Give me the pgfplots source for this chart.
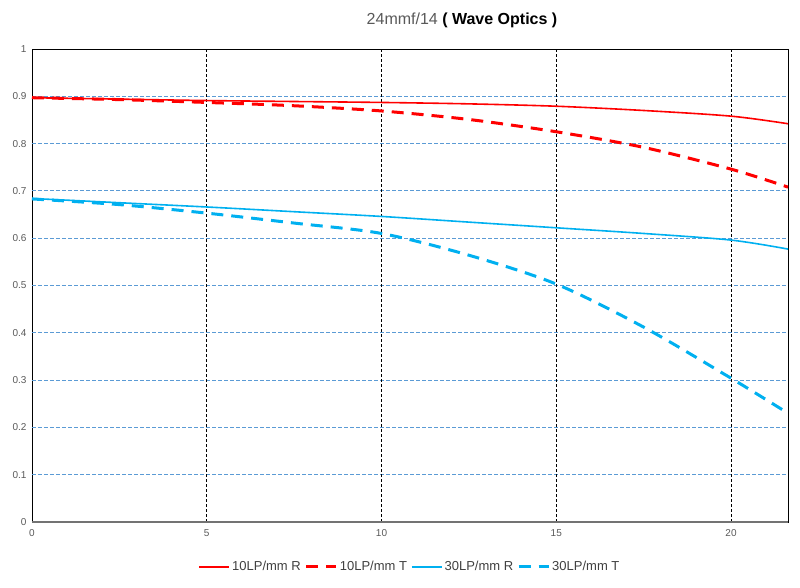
\documentclass[border=0pt]{standalone}
\usepackage{pgfplots}
\pgfplotsset{compat=1.18}
\usepackage{fontspec}
\setmainfont{Liberation Sans}
\definecolor{cred}{RGB}{255,0,0}
\definecolor{cblue}{RGB}{0,176,240}
\definecolor{gridblue}{RGB}{91,155,213}
\definecolor{tickgray}{RGB}{89,89,89}
\begin{document}
\begin{tikzpicture}
\begin{axis}[
  name=ax,
  scale only axis,
  width=756pt, height=473pt,
  xmin=0, xmax=21.63, ymin=0, ymax=1,
  xtick={0,5,10,15,20},
  ytick={0,0.1,0.2,0.3,0.4,0.5,0.6,0.7,0.8,0.9,1},
  yticklabels={0,0.1,0.2,0.3,0.4,0.5,0.6,0.7,0.8,0.9,1},
  xticklabels={0,5,10,15,20},
  tick style={draw=none},
  tick label style={font=\fontsize{10}{11}\selectfont, text=tickgray},
  yticklabel style={xshift=-2pt},
  xticklabel style={yshift=-4pt},
  /pgf/number format/assume math mode=true,
  axis line style={black, line width=0.8pt},
  legend style={at={(0.5,-0.095)}, anchor=center, draw=none,
    font=\fontsize{13}{15}\selectfont, text=black!75,
    /tikz/every even column/.append style={column sep=2pt}},
  legend columns=4,
  legend image code/.code={\draw[#1] (0pt,0pt) -- (30pt,0pt);},
]
% grid lines
\pgfplotsinvokeforeach{0.1,0.2,0.3,0.4,0.5,0.6,0.7,0.8,0.9}{
  \draw[gridblue, line width=1.2pt, dash pattern=on 4pt off 2pt] (axis cs:0,#1) -- (axis cs:21.63,#1);
}
\pgfplotsinvokeforeach{5,10,15,20}{
  \draw[black, line width=1pt, dash pattern=on 3pt off 2pt] (axis cs:#1,0) -- (axis cs:#1,1);
}
\draw[black!55, line width=2pt] (rel axis cs:0,0) -- (rel axis cs:1,0);

\addplot[cred, line width=1.6pt, smooth] coordinates {
(0,0.897)(2.5,0.894)(5,0.891)(7.5,0.889)(10,0.887)(12.5,0.884)(15,0.879)(17.5,0.870)(20,0.858)(21.63,0.842)};
\addlegendentry{10LP/mm R}
\addplot[cred, line width=3pt, smooth, dash pattern=on 12pt off 8pt] coordinates {
(0,0.897)(2.5,0.893)(5,0.887)(7.5,0.880)(10,0.869)(12.5,0.851)(15,0.825)(17.5,0.792)(20,0.746)(21.63,0.708)};
\addlegendentry{10LP/mm T}
\addplot[cblue, line width=1.6pt, smooth] coordinates {
(0,0.684)(2.5,0.675)(5,0.666)(7.5,0.656)(10,0.646)(12.5,0.634)(15,0.622)(17.5,0.610)(20,0.596)(21.63,0.577)};
\addlegendentry{30LP/mm R}
\addplot[cblue, line width=3pt, smooth, dash pattern=on 12pt off 8pt] coordinates {
(0,0.683)(2.5,0.671)(5,0.653)(7.5,0.632)(10,0.610)(12.5,0.564)(15,0.503)(17.5,0.412)(20,0.304)(21.63,0.230)};
\addlegendentry{30LP/mm T}
\end{axis}
\node[anchor=center, font=\fontsize{16}{18}\selectfont] at ([xshift=52pt,yshift=29pt]ax.north) {\textcolor{tickgray}{24mmf/14} \textbf{( Wave Optics )}};
\path (ax.south west) ++(-32pt,-65pt) coordinate (bl);
\path (ax.north east) ++(12pt,49pt) coordinate (tr);
\path[use as bounding box] (bl) rectangle (tr);
\end{tikzpicture}
\end{document}
